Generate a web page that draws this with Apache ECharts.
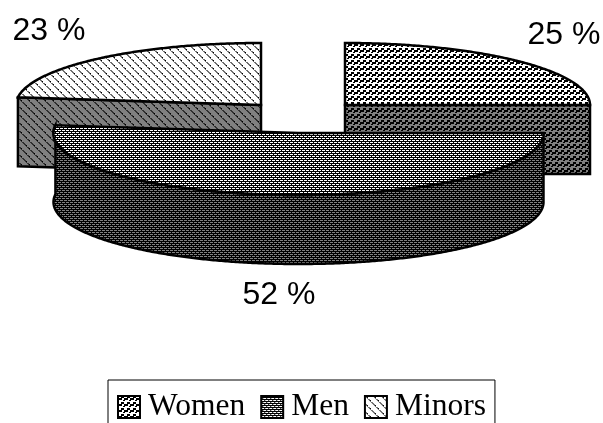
<!DOCTYPE html>
<html>
<head>
<meta charset="utf-8">
<style>
html, body { margin: 0; padding: 0; background: #fff; }
#chart { width: 603px; height: 423px; }
</style>
<script src="https://cdn.jsdelivr.net/npm/echarts@6/dist/echarts.min.js"></script>
</head>
<body>
<div id="chart"></div>
<script>
const categories = ['Women', 'Men', 'Minors']
const shares = [25, 52, 23]

// bitmap hatch tiles: . background, g soft dash, # black
const tiles = {
  Women: ['...###', '...###', '####..', '####..', '#....#', '......'],
  Men: ['...#...#', '########', '.#...#..', '########'],
  Minors: ['gg......', '.g#.....', '..g.....', '...gg...', '....g#..', '.....g..', '......gg', 'g......g']
}
// where each exploded slice sits, and where its label goes
const layout = {
  Women: { cx: 345, cy: 105, labelX: 564, labelY: 35 },
  Men: { cx: 298.5, cy: 133, labelX: 279, labelY: 295 },
  Minors: { cx: 261, cy: 105, labelX: 49, labelY: 31 }
}
const rx = 245
const ry = 62
const depth = 69

function makePattern (rows, light, soft) {
  const canvas = document.createElement('canvas')
  canvas.width = rows[0].length
  canvas.height = rows.length
  const ctx = canvas.getContext('2d')
  rows.forEach((row, y) => {
    row.split('').forEach((c, x) => {
      ctx.fillStyle = c === '#' ? '#000' : c === 'g' ? soft : light
      ctx.fillRect(x, y, 1, 1)
    })
  })
  return { image: canvas, repeat: 'repeat' }
}

const topFill = {}
const sideFill = {}
categories.forEach(name => {
  topFill[name] = makePattern(tiles[name], '#fff', '#707070')
  sideFill[name] = makePattern(tiles[name], '#808080', '#303030')
})

function rim (slice, angle, drop) {
  const a = angle * Math.PI / 180
  return [slice.cx + rx * Math.sin(a), slice.cy - ry * Math.cos(a) + (drop || 0)]
}

function arc (slice, from, to, drop) {
  const pts = []
  const steps = Math.ceil(Math.abs(to - from) * 2)
  for (let i = 0; i <= steps; i++) {
    pts.push(rim(slice, from + (to - from) * i / steps, drop))
  }
  return pts
}

// clockwise from 12 o'clock, like the pie in the original
function sliceAngles (index) {
  const total = shares.reduce((a, b) => a + b, 0)
  const before = shares.slice(0, index).reduce((a, b) => a + b, 0)
  return [before / total * 360, (before + shares[index]) / total * 360]
}

function renderSlice (name, index) {
  return function (params, api) {
    const slice = layout[name]
    const [start, end] = sliceAngles(index)
    const value = api.value(0)
    const line = { stroke: '#000', lineWidth: 2.5, lineJoin: 'miter' }
    const apex = [slice.cx, slice.cy]
    const children = []
    const addFace = (points, fill) => {
      children.push({
        type: 'polygon',
        shape: { points },
        style: Object.assign({ fill }, line)
      })
    }
    // the cut face on the two small slices, the outer wall on the big one
    if (end - start > 180) {
      addFace(arc(slice, start, end, 0).concat(arc(slice, end, start, depth)), sideFill[name])
    } else {
      const edge = start === 0 ? end : start
      const p = rim(slice, edge)
      addFace([apex, p, [p[0], p[1] + depth], [apex[0], apex[1] + depth]], sideFill[name])
    }
    addFace([apex].concat(arc(slice, start, end, 0)), topFill[name])
    children.push({
      type: 'text',
      x: slice.labelX,
      y: slice.labelY,
      style: {
        text: value + ' %',
        fill: '#000',
        font: '32px "Liberation Sans", Arial, sans-serif',
        align: 'center',
        verticalAlign: 'middle'
      }
    })
    return { type: 'group', children }
  }
}

const chart = echarts.init(document.getElementById('chart'))
// Men goes last because it sits in front of the other two
const drawOrder = ['Women', 'Minors', 'Men']

chart.setOption({
  animation: false,
  backgroundColor: '#fff',
  legend: {
    left: 108,
    top: 380,
    orient: 'horizontal',
    padding: [11, 9, 12, 9],
    itemGap: 15,
    itemWidth: 22,
    itemHeight: 22,
    borderColor: '#000',
    borderWidth: 1,
    selectedMode: false,
    textStyle: {
      color: '#000',
      fontFamily: '"Liberation Serif", "Times New Roman", serif',
      fontSize: 31.5,
      padding: [0, 0, 0, 3]
    },
    data: categories.map(name => ({
      name,
      icon: 'rect',
      itemStyle: { color: topFill[name], borderColor: '#000', borderWidth: 2 }
    }))
  },
  series: drawOrder.map(name => {
    const index = categories.indexOf(name)
    return {
      type: 'custom',
      name,
      coordinateSystem: 'none',
      silent: true,
      z: name === 'Men' ? 3 : 2,
      renderItem: renderSlice(name, index),
      data: [[shares[index]]],
      itemStyle: { color: '#808080' }
    }
  })
})
</script>
</body>
</html>
